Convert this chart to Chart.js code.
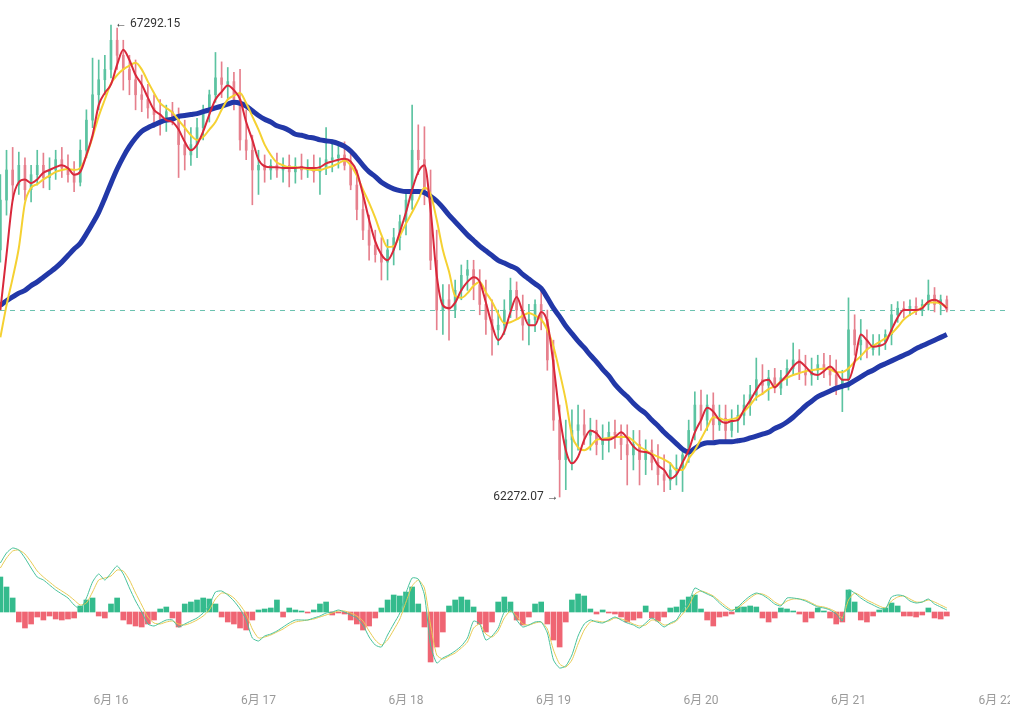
<!DOCTYPE html>
<html>
<head>
<meta charset="utf-8">
<script src="https://cdn.jsdelivr.net/npm/chart.js@4.4.1/dist/chart.umd.min.js"></script>
<style>
  html, body { margin: 0; padding: 0; background: #fff; }
  canvas { display: block; }
</style>
</head>
<body>
<canvas id="chart" width="1010" height="708"></canvas>
<script>
// hourly candles, first one 18h before 6/16 00:00
const startHour = -18;
const dayTicks = [0, 24, 48, 72, 96, 120, 144];
const dayLabels = ['6月 16', '6月 17', '6月 18', '6月 19', '6月 20', '6月 21', '6月 22'];

const opens = [
  64900,65430,65750,65590,65800,65540,65700,65800,65670,65750,65860,65770,65700,65620,65960,66280,66550,66710,
  66820,67130,66970,66820,66710,66550,66500,66410,66340,66280,66370,66300,66020,65910,66020,66200,66370,66550,66730,66660,66690,66500,66070,65960,
  65750,65800,65750,65800,65750,65800,65730,65790,65750,65780,65730,65770,65860,65880,65910,65800,65590,65330,65110,64950,64850,64770,64900,65030,
  65200,65430,65960,65860,65490,64790,64260,64370,64260,64470,64630,64690,64530,64320,64160,64050,64100,64260,64470,64260,64100,64160,64320,64160,
  63730,63090,62670,62880,62980,63040,62930,62980,62830,62880,62960,62930,62830,62720,62830,62670,62770,62640,62510,62450,62560,62580,62720,62980,
  63250,63090,63250,63040,63110,62980,63090,63140,63250,63360,63520,63460,63540,63430,63540,63640,63730,63600,63570,63620,63680,63620,63570,63460,
  63520,64050,63890,63940,63840,63890,63920,64000,64210,64280,64260,64300,64260,64320,64420,64320,64370
];
const highs = [
  65700,65960,65990,65940,65880,65800,65960,65930,65880,65960,65990,65910,65840,66070,66390,66940,66920,66970,
  67292.15,67260,67130,66970,66920,66760,66660,66550,66500,66440,66470,66410,66280,66200,66300,66440,66600,67000,66900,66840,66790,66820,66390,66120,
  65960,65910,65860,65930,65880,65910,65880,65920,65860,65910,65880,66200,66070,66020,66050,65960,65750,65490,65270,65110,65030,65010,65130,65270,
  65540,66440,66230,66210,65750,65110,64530,64530,64580,64740,64790,64790,64690,64580,64370,64260,64370,64600,64560,64420,64320,64370,64470,64260,
  63940,63250,63090,63200,63250,63200,63110,63090,63040,63070,63090,63040,63040,62980,62980,62880,62880,62830,62720,62640,62720,62770,63090,63390,
  63410,63360,63380,63250,63250,63200,63250,63360,63460,63750,63680,63620,63640,63620,63730,63910,63840,63780,63750,63780,63800,63780,63730,63620,
  64390,64210,64160,64050,64000,64000,64050,64320,64350,64350,64370,64390,64370,64580,64500,64420,64410
];
const lows = [
  64770,65270,65430,65490,65430,65410,65590,65560,65540,65650,65670,65620,65520,65580,65880,66200,66390,66550,
  66730,66820,66600,66550,66390,66370,66300,66230,66120,66160,66230,65670,65750,65800,65880,66070,66260,66470,66520,66500,66390,65960,65860,65380,
  65490,65620,65650,65670,65620,65570,65610,65650,65670,65620,65490,65700,65730,65770,65750,65540,65220,65010,64790,64770,64580,64580,64740,64900,
  65060,65330,65700,65380,64690,64050,64000,63940,64180,64370,64470,64370,64210,64000,63780,63890,64000,64180,64160,63940,63890,64030,64050,63620,
  62980,62272.07,62350,62560,62770,62830,62770,62720,62670,62750,62790,62670,62400,62560,62400,62510,62560,62400,62330,62350,62400,62330,62640,62880,
  62980,62980,62880,62980,62880,62910,62960,63040,63140,63300,63360,63300,63380,63360,63460,63570,63520,63460,63460,63520,63540,63460,63360,63180,
  63410,63780,63730,63750,63780,63780,63840,63890,64130,64180,64200,64210,64200,64260,64240,64210,64240
];
const closes = [
  65430,65750,65590,65800,65540,65700,65800,65670,65750,65860,65770,65700,65620,65960,66280,66550,66710,66820,
  67130,66970,66820,66710,66550,66500,66410,66340,66280,66370,66300,66020,65910,66020,66200,66370,66550,66730,66660,66690,66500,66070,65960,65750,
  65800,65750,65800,65750,65800,65730,65790,65750,65780,65730,65770,65860,65880,65910,65800,65590,65330,65110,64950,64850,64770,64900,65030,65200,
  65430,65960,65860,65490,64790,64260,64370,64260,64470,64630,64690,64530,64320,64160,64050,64100,64260,64470,64260,64100,64160,64320,64160,63730,
  63090,62670,62880,62980,63040,62930,62980,62830,62880,62960,62930,62830,62720,62830,62670,62770,62640,62510,62450,62560,62580,62720,62980,63250,
  63090,63250,63040,63110,62980,63090,63140,63250,63360,63520,63460,63540,63430,63540,63640,63730,63600,63570,63620,63680,63620,63570,63460,63520,
  64050,63890,63940,63840,63890,63920,64000,64210,64280,64260,64300,64260,64320,64420,64320,64370,64260
];

// moving averages
const maFast = [
  64260,64850,65430,65620,65650,65610,65650,65720,65750,65780,65800,65770,65700,65730,65910,66120,66440,66570,
  66660,66870,67030,66920,66760,66660,66520,66390,66340,66280,66260,66180,66050,65960,66020,66160,66340,66500,66580,66650,66600,66500,66260,66070,
  65860,65790,65780,65780,65770,65770,65770,65780,65770,65770,65780,65820,65840,65860,65870,65840,65730,65490,65220,64990,64850,64790,64900,65090,
  65300,65540,65730,65800,65330,64630,64310,64280,64340,64470,64560,64610,64560,64340,64100,63940,64030,64240,64400,64240,64100,64100,64240,64130,
  63680,63140,62770,62630,62700,62880,62980,62950,62880,62880,62910,62960,62900,62810,62760,62750,62720,62610,62560,62470,62510,62640,62770,62960,
  63090,63220,63180,63090,63060,63080,63090,63200,63300,63410,63500,63520,63440,63500,63570,63660,63710,63660,63590,63570,63610,63660,63600,63520,
  63520,63710,64000,63940,63870,63880,63910,64050,64180,64260,64260,64260,64280,64350,64370,64340,64280
];
const maMid = [
  63970,64310,64600,64920,65400,65560,65600,65650,65690,65730,65750,65760,65750,65770,65900,66100,66320,66500,
  66670,66760,66820,66860,66890,66820,66690,66570,66460,66410,66360,66280,66200,66120,66070,66100,66180,66260,66390,66500,66540,66570,66460,66320,
  66180,66020,65910,65830,65800,65780,65780,65770,65760,65750,65750,65770,65790,65820,65850,65800,65690,65540,65400,65240,65060,64930,64940,65050,
  65180,65300,65430,65560,65490,65220,64900,64670,64410,64390,64440,64520,64560,64450,64350,64220,64120,64130,64160,64200,64230,64200,64160,64050,
  63870,63600,63300,62930,62800,62770,62810,62880,62890,62900,62910,62910,62910,62870,62810,62770,62730,62700,62670,62630,62560,62560,62680,62770,
  62890,63010,63120,63110,63090,63100,63120,63180,63250,63330,63370,63420,63450,63500,63540,63570,63590,63610,63620,63630,63640,63630,63600,63600,
  63640,63710,63770,63840,63880,63920,63960,64010,64080,64160,64210,64250,64290,64340,64340,64330,64290
];
const maSlow = [
  64310,64360,64400,64440,64470,64520,64560,64610,64660,64710,64770,64840,64910,64970,65070,65180,65300,65450,
  65610,65760,65890,66000,66090,66160,66200,66230,66260,66280,66290,66320,66330,66340,66350,66370,66390,66410,66430,66450,66470,66460,66430,66380,
  66330,66290,66260,66220,66200,66170,66130,66120,66100,66090,66070,66060,66050,66030,66000,65950,65880,65800,65730,65680,65620,65580,65550,65530,
  65520,65520,65520,65510,65470,65420,65350,65270,65200,65130,65060,65000,64940,64890,64840,64790,64760,64730,64700,64640,64590,64540,64490,64390,
  64280,64190,64090,64010,63930,63860,63780,63710,63630,63560,63470,63400,63340,63270,63210,63160,63090,63030,62960,62900,62840,62780,62750,62790,
  62830,62850,62850,62860,62860,62860,62870,62880,62900,62920,62940,62960,63000,63030,63070,63120,63180,63240,63290,63340,63370,63400,63430,63450,
  63470,63510,63550,63590,63620,63660,63690,63720,63750,63780,63810,63850,63880,63910,63940,63970,64000
];

// MACD panel
const macdDif = [
  49,59,64,62,54,44,35,32,27,22,18,14,7,3,14,30,38,32,
  39,46,38,24,11,0,-12,-14,-11,-8,-8,-15,-12,-9,-6,-1,7,20,21,17,11,3,-8,-26,
  -29,-24,-22,-19,-15,-11,-8,-8,-8,-6,-4,-1,0,2,0,-3,-6,-13,-25,-33,-35,-23,-12,-1,
  19,34,33,17,-33,-51,-46,-43,-39,-34,-26,-9,-12,-28,-24,-16,0,3,-8,-15,-13,-10,-10,-21,
  -48,-56,-54,-43,-24,-12,-8,-10,-11,-8,-5,-8,-11,-13,-16,-11,-6,-10,-15,-11,-8,2,10,24,
  21,18,15,9,4,1,5,11,16,19,17,13,8,6,14,14,13,11,8,5,4,2,-2,-9,
  22,19,14,10,7,4,3,15,17,16,11,9,10,13,8,5,2
];
const macdDea = [
  44,54,61,62,58,50,41,35,30,25,21,17,12,7,9,20,32,34,
  36,42,41,32,19,7,-5,-11,-12,-10,-9,-12,-13,-11,-8,-4,2,13,19,18,14,7,-2,-17,
  -26,-25,-23,-20,-17,-13,-10,-9,-8,-7,-5,-3,-1,1,1,-1,-4,-9,-19,-28,-33,-28,-18,-7,
  10,26,32,24,-13,-43,-47,-44,-41,-36,-30,-16,-12,-22,-25,-19,-6,1,-4,-12,-13,-11,-10,-17,
  -38,-52,-55,-48,-32,-18,-10,-9,-10,-9,-6,-7,-9,-12,-14,-13,-8,-9,-13,-12,-9,-2,6,18,
  21,19,16,11,6,2,4,9,14,18,18,15,10,7,11,13,13,12,9,6,5,3,0,-6,
  12,19,16,12,9,6,4,11,15,16,13,10,10,12,10,7,4
];
const macdHist = [
  35,25,14,-10,-16,-12,-5,-8,-4,-7,-8,-7,-6,6,12,14,-4,-6,
  8,14,-8,-12,-14,-15,-12,-8,3,5,-6,-15,8,10,12,14,13,8,-5,-10,-12,-16,-18,-8,
  2,3,4,12,-5,4,2,1,-1,2,8,10,-3,-1,-2,-8,-12,-18,-14,-6,4,12,17,16,
  20,25,8,-15,-50,-35,-20,6,12,15,12,5,-12,-20,-10,10,15,10,-8,-13,-5,8,10,-12,
  -28,-35,-10,12,18,16,3,-2,2,-1,-2,-5,-10,-8,-6,6,-6,-9,-5,4,5,12,15,17,
  3,-8,-14,-5,-4,-2,5,5,6,5,-6,-10,-6,4,3,1,-2,-10,-6,4,1,-6,-12,-10,
  22,10,-8,-10,-4,2,4,9,6,-4,-4,-5,-3,4,-6,-7,-4
];

const GREEN = '#5cc3a1';
const RED = '#e6808d';
const hours = closes.map((_, i) => startHour + i);
const pts = arr => arr.map((v, i) => ({x: hours[i], y: v}));
const isUp = i => closes[i] >= opens[i];
const candleColor = ctx => isUp(ctx.dataIndex) ? GREEN : RED;

const maLine = (data, color, width, order) => ({
  type: 'line', data: pts(data), yAxisID: 'y', borderColor: color, borderWidth: width,
  pointRadius: 0, cubicInterpolationMode: 'monotone', order
});

const overlay = {
  id: 'overlay',
  beforeDatasetsDraw(chart) {
    const {ctx, chartArea, scales} = chart;
    const py = Math.round(scales.y.getPixelForValue(closes[closes.length - 1])) + 0.5;
    ctx.save();
    ctx.strokeStyle = '#6cc2b0';
    ctx.lineWidth = 1;
    ctx.setLineDash([5, 5]);
    ctx.beginPath();
    ctx.moveTo(chartArea.left, py);
    ctx.lineTo(chartArea.right, py);
    ctx.stroke();
    ctx.restore();
  },
  afterDatasetsDraw(chart) {
    const {ctx, scales} = chart;
    const hi = highs.indexOf(Math.max(...highs));
    const lo = lows.indexOf(Math.min(...lows));
    ctx.save();
    ctx.font = '12px Roboto, sans-serif';
    ctx.fillStyle = '#333';
    ctx.textBaseline = 'middle';
    ctx.textAlign = 'left';
    ctx.fillText('← ' + highs[hi].toFixed(2), scales.x.getPixelForValue(hours[hi]) + 4, scales.y.getPixelForValue(highs[hi]) - 1);
    ctx.textAlign = 'right';
    ctx.fillText(lows[lo].toFixed(2) + ' →', scales.x.getPixelForValue(hours[lo]) - 1, scales.y.getPixelForValue(lows[lo]));
    ctx.restore();
  }
};

new Chart(document.getElementById('chart'), {
  type: 'bar',
  data: {
    datasets: [
      maLine(maFast, '#d9283b', 2, 1),
      maLine(maMid, '#f5d132', 2, 2),
      maLine(maSlow, '#2238a8', 5, 3),
      {
        type: 'bar', yAxisID: 'y', order: 10, grouped: false,
        data: hours.map((h, i) => ({x: h, y: [lows[i], highs[i]]})),
        backgroundColor: candleColor, barThickness: 1, maxBarThickness: 1
      },
      {
        type: 'bar', yAxisID: 'y', order: 9, grouped: false,
        data: hours.map((h, i) => ({x: h, y: [opens[i], closes[i]]})),
        backgroundColor: candleColor, barThickness: 2, maxBarThickness: 2, minBarLength: 1
      },
      {
        type: 'line', data: pts(macdDif), yAxisID: 'y2', borderColor: '#48c29c', borderWidth: 1,
        pointRadius: 0, tension: 0.2, order: 4
      },
      {
        type: 'line', data: pts(macdDea), yAxisID: 'y2', borderColor: '#e8cb55', borderWidth: 1,
        pointRadius: 0, tension: 0.2, order: 5
      },
      {
        type: 'bar', yAxisID: 'y2', order: 8, grouped: false,
        data: pts(macdHist),
        backgroundColor: ctx => macdHist[ctx.dataIndex] >= 0 ? '#34bb8d' : '#ef6573',
        barThickness: 5, maxBarThickness: 5
      }
    ]
  },
  options: {
    responsive: false,
    devicePixelRatio: 1,
    animation: false,
    layout: { padding: 0 },
    plugins: { legend: { display: false }, tooltip: { enabled: false } },
    scales: {
      x: {
        type: 'linear', min: -18.06, max: 146.28, offset: false,
        grid: { display: false }, border: { display: false },
        afterBuildTicks: s => { s.ticks = dayTicks.map(v => ({value: v})); },
        afterFit: s => { s.height = 28; s.paddingLeft = 0; s.paddingRight = 0; },
        ticks: {
          autoSkip: false, maxRotation: 0, padding: 6, color: '#9a9a9a',
          font: { size: 12, family: "Roboto, 'Noto Sans CJK SC', sans-serif" },
          callback: v => dayLabels[dayTicks.indexOf(v)]
        }
      },
      y: { display: false, min: 60325.7, max: 67558.05 },
      y2: { display: false, min: -68, max: 612 }
    }
  },
  plugins: [overlay]
});
</script>
</body>
</html>
